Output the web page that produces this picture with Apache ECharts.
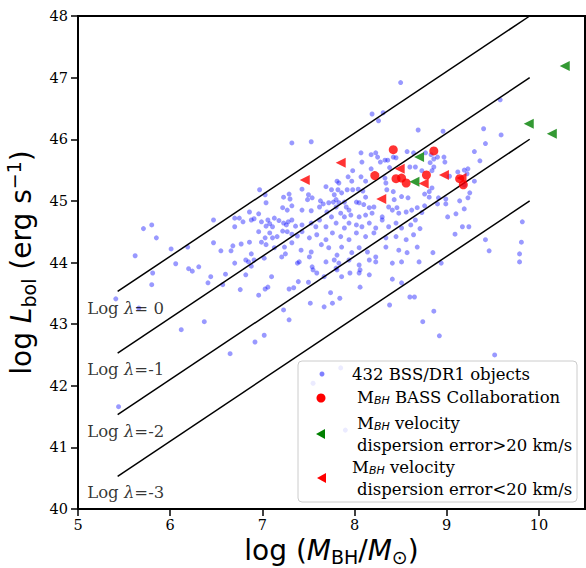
<!DOCTYPE html>
<html><head><meta charset="utf-8">
<script src="https://cdn.jsdelivr.net/npm/echarts@6/dist/echarts.min.js"></script>
<style>html,body{margin:0;padding:0;background:#fff}#c{width:586px;height:568px}</style>
</head><body><div id="c"></div>
<script>
// 432 BSS/DR1 objects (approximate readings from the picture)
const bssLogM = [5.41,5.44,5.66,5.62,5.71,5.80,5.85,6.01,6.19,6.06,6.20,6.24,6.31,5.81,5.80,6.12,6.37,6.41,6.44,6.47,6.47,6.55,6.57,6.60,6.65,6.66,6.68,6.70,6.70,6.70,6.75,6.76,6.77,6.79,6.82,6.85,6.86,6.86,6.88,6.88,6.88,6.91,6.91,6.92,6.96,6.96,6.96,6.97,
7.03,7.04,6.99,7.04,7.08,7.11,7.04,7.13,7.10,7.03,7.06,7.02,7.06,7.08,7.13,7.18,7.23,7.26,7.28,7.32,7.36,7.22,7.27,7.23,7.29,7.30,7.32,7.32,7.16,7.22,7.27,7.32,7.38,7.24,7.25,7.21,7.29,7.34,7.39,7.23,7.29,7.02,6.99,7.03,7.11,6.82,7.38,
8.50,8.19,8.31,8.26,7.53,8.69,8.07,8.18,8.23,8.25,8.57,8.64,8.42,8.08,8.28,8.33,8.36,8.45,8.60,8.66,7.98,8.18,8.38,7.93,8.07,8.12,8.33,7.81,7.83,7.97,
7.43,7.69,7.75,7.78,7.82,7.86,7.92,7.98,8.04,8.09,8.12,8.34,8.35,8.42,8.43,8.51,8.58,7.50,7.49,7.54,7.63,7.66,7.72,7.77,7.80,7.83,7.89,7.80,7.91,7.94,8.02,8.05,8.10,8.16,8.21,
7.43,7.53,7.62,7.70,7.75,7.85,7.89,7.96,8.05,8.12,8.19,8.30,8.37,8.41,8.46,8.48,8.56,8.62,8.68,
7.43,7.53,7.58,7.62,7.69,7.80,7.89,7.94,8.02,8.08,8.16,8.23,8.30,8.37,8.45,8.51,8.61,8.66,
7.43,7.51,7.59,7.69,7.76,7.85,7.94,8.02,8.12,8.21,8.34,8.45,8.56,8.64,
7.32,7.42,7.53,7.64,7.72,7.81,7.86,7.97,8.05,8.14,8.23,8.34,8.48,8.57,8.68,
7.40,7.51,7.54,7.69,7.78,7.83,7.80,7.94,8.05,8.16,8.23,8.41,8.51,7.59,7.86,8.05,8.16,7.67,
7.55,7.81,7.95,8.06,8.06,7.74,7.84,7.76,7.67,7.52,7.50,8.41,8.51,8.60,8.65,8.38,8.86,8.74,8.92,9.52,7.85,7.55,7.90,
9.58,8.96,9.40,9.59,9.42,9.30,9.36,8.97,8.86,8.77,8.83,8.90,8.98,8.82,8.86,8.84,8.73,9.12,9.23,9.03,9.30,9.25,9.23,9.14,9.19,9.10,9.01,9.17,9.24,9.09,
8.84,8.81,8.76,8.81,8.91,8.99,8.99,8.90,8.76,8.73,8.71,9.82,9.42,9.46,9.81,9.79,9.79,8.85,8.94,8.70,9.19,9.22,9.19];
const bssLogL = [43.41,41.66,43.26,44.11,44.55,44.61,44.40,44.22,44.25,43.98,43.90,43.86,43.93,43.83,43.64,42.91,43.04,43.67,43.77,44.69,44.32,44.19,43.64,43.81,42.52,44.19,44.27,44.72,44.58,43.99,44.72,43.56,44.30,44.66,43.80,44.01,44.82,44.33,44.69,44.14,43.94,44.71,44.04,42.71,44.79,44.50,43.47,45.18,
45.10,44.97,44.66,44.59,44.48,44.58,44.29,44.24,43.77,43.57,43.60,44.07,44.69,44.63,44.72,44.68,44.64,44.61,44.66,44.69,44.59,44.89,44.85,45.06,45.11,45.03,44.92,45.94,44.42,44.51,44.50,44.46,44.43,44.25,44.14,44.09,43.57,43.59,43.69,43.23,43.07,42.82,44.33,44.40,44.40,44.04,43.99,
46.92,46.41,46.43,46.30,45.96,46.15,45.78,45.75,45.78,45.71,45.80,45.78,45.71,45.63,45.63,45.66,45.66,45.70,45.55,45.55,45.49,45.52,45.54,45.39,45.39,45.32,45.37,45.32,45.29,45.32,
45.19,45.23,45.18,45.10,45.18,45.13,45.18,45.18,45.19,45.16,45.06,45.29,45.18,45.15,45.02,45.07,45.05,45.10,45.02,45.05,45.00,44.95,44.97,44.98,45.02,44.97,44.98,44.90,44.90,44.85,44.98,44.97,44.94,44.89,44.90,
44.85,44.84,44.90,44.82,44.74,44.80,44.74,44.77,44.74,44.77,44.80,44.74,44.90,44.85,44.89,44.80,44.82,44.85,44.89,
44.61,44.64,44.58,44.69,44.58,44.64,44.56,44.64,44.61,44.58,44.64,44.56,44.69,44.58,44.64,44.56,44.61,44.69,
44.50,44.40,44.45,44.37,44.48,44.42,44.37,44.48,44.42,44.48,44.40,44.42,44.37,44.45,
44.32,44.20,44.17,44.29,44.24,44.12,44.25,44.16,44.24,44.17,44.09,44.25,44.20,44.16,44.25,
44.01,44.09,43.93,44.01,44.04,43.99,43.91,44.04,43.96,44.04,44.01,43.99,44.01,43.83,43.77,43.83,43.80,43.77,
43.88,43.88,43.83,43.88,43.60,43.51,43.42,43.34,43.28,43.34,43.68,43.73,43.67,43.44,43.44,43.31,43.21,43.04,42.81,42.50,42.29,42.04,41.28,
46.64,46.13,46.17,46.07,45.93,45.80,45.65,45.71,45.68,45.78,45.75,45.71,45.63,45.62,45.55,45.49,45.49,45.47,45.52,45.40,45.32,45.13,45.05,45.00,44.87,44.79,44.74,44.58,44.58,44.46,
45.21,45.15,45.11,45.06,45.05,45.03,44.95,44.95,44.92,44.81,44.55,44.66,44.37,44.19,44.33,44.14,44.01,44.16,43.99,44.01,45.50,45.44,45.26];

// M_BH from BASS collaboration
const bassLogM = [8.42,8.86,8.22,8.78,8.45,8.51,8.56,9.14,9.18];
const bassLogL = [45.83,45.81,45.41,45.42,45.36,45.37,45.29,45.36,45.26];
// velocity dispersion error > 20 km/s
const hiErrLogM = [10.28,9.89,10.14,8.70,8.65];
const hiErrLogL = [47.19,46.25,46.09,45.71,45.31];
// velocity dispersion error < 20 km/s
const loErrLogM = [7.46,7.85,8.49,8.29,8.75,8.97,9.16];
const loErrLogL = [45.34,45.62,45.52,45.03,45.28,45.42,45.37];

// Eddington-ratio lines
const lambdaValues = ['0','-1','-2','-3'];
const lambdaLineLogM = [5.43, 9.90];
const lambdaLineLogL = [[43.53,48.00],[42.53,47.00],[41.53,46.00],[40.53,45.00]];
const lambdaLabelLogM = 5.10;
const lambdaLabelLogL = [43.26,42.26,41.25,40.26];

const xTickMin = 5, xTickMax = 10.5, xTickStep = 1;
const yTickMin = 40, yTickMax = 48, yTickStep = 1;

const zip = (a, b) => a.map((v, i) => [v, b[i]]);
const SERIF = 'DejaVu Serif';
const SANS = 'DejaVu Sans';

const series = [];
series.push({
  name: '432 BSS/DR1 objects', type: 'scatter', data: zip(bssLogM, bssLogL),
  symbol: 'circle', symbolSize: 5, itemStyle: { color: 'rgba(0,0,255,0.5)' }, z: 2, silent: true
});
lambdaLineLogL.forEach((ys, i) => {
  series.push({
    name: 'lambda' + lambdaValues[i], type: 'line', data: zip(lambdaLineLogM, ys),
    showSymbol: false, symbol: 'none', lineStyle: { color: '#000', width: 1.5 }, z: 3, silent: true
  });
});
series.push({
  name: 'labels', type: 'scatter', symbolSize: 0, silent: true, z: 4,
  data: lambdaLabelLogL.map((y, i) => ({ value: [lambdaLabelLogM, y], lab: lambdaValues[i] })),
  label: {
    show: true, position: [0, 0], align: 'left', verticalAlign: 'middle',
    formatter: p => '{a|Log }{i|λ}{a|=' + (p.data.lab === '0' ? ' 0' : p.data.lab) + '}',
    rich: {
      a: { fontFamily: SERIF, fontSize: 16.5, color: '#000' },
      i: { fontFamily: SERIF, fontSize: 16.5, fontStyle: 'italic', color: '#000' }
    }
  }
});
series.push({
  name: 'BASS', type: 'scatter', data: zip(bassLogM, bassLogL), symbol: 'circle', symbolSize: 9,
  itemStyle: { color: '#ff0000' }, z: 5, silent: true
});
series.push({
  name: 'hiErr', type: 'scatter', data: zip(hiErrLogM, hiErrLogL), symbol: 'triangle', symbolSize: [10, 10],
  symbolRotate: 90, itemStyle: { color: '#008000' }, z: 6, silent: true
});
series.push({
  name: 'loErr', type: 'scatter', data: zip(loErrLogM, loErrLogL), symbol: 'triangle', symbolSize: [10, 10],
  symbolRotate: 90, itemStyle: { color: '#ff0000' }, z: 6, silent: true
});

const tickStyle = { show: true, inside: false, length: 7, lineStyle: { color: '#000', width: 1.5 } };
const labelStyle = { fontFamily: SERIF, fontSize: 14.5, color: '#000' };

const legendItems = [];
const LX = 298, LY = 361;
legendItems.push({ type: 'rect', shape: { x: LX, y: LY, width: 279, height: 141, r: 4 },
  style: { fill: 'rgba(255,255,255,0.8)', stroke: '#cccccc', lineWidth: 1 }, z: 100 });
legendItems.push({ type: 'circle', shape: { cx: 322, cy: 374, r: 2.5 }, style: { fill: 'rgba(0,0,255,0.5)' }, z: 101 });
legendItems.push({ type: 'circle', shape: { cx: 321, cy: 398, r: 4.5 }, style: { fill: '#ff0000' }, z: 101 });
legendItems.push({ type: 'polygon', shape: { points: [[316, 434], [325, 429], [325, 439]] }, style: { fill: '#008000' }, z: 101 });
legendItems.push({ type: 'polygon', shape: { points: [[317, 478], [326, 473], [326, 483]] }, style: { fill: '#ff0000' }, z: 101 });
const richLeg = {
  t: { fontFamily: SERIF, fontSize: 16.5, fill: '#000' },
  s: { fontFamily: SANS, fontSize: 11, fontStyle: 'italic', fill: '#000', verticalAlign: 'bottom', lineHeight: 18 }
};
function legText(x, y, txt) {
  legendItems.push({ type: 'text', x: x, y: y, z: 101,
    style: { text: txt, fontFamily: SERIF, fontSize: 16.5, fill: '#000', verticalAlign: 'middle', align: 'left', rich: richLeg } });
}
legText(352, 374, '{t|432 BSS/DR1 objects}');
legText(357, 397, '{t|M}{s|BH}{t| BASS Collaboration}');
legText(357, 423, '{t|M}{s|BH}{t| velocity}');
legText(357, 445, '{t|dispersion error>20 km/s}');
legText(352, 467, '{t|M}{s|BH}{t| velocity}');
legText(357, 489, '{t|dispersion error<20 km/s}');

const chart = echarts.init(document.getElementById('c'), null, { renderer: 'svg' });
chart.setOption({
  animation: false,
  backgroundColor: '#fff',
  grid: { left: 78, top: 16, right: 1, bottom: 59, containLabel: false, outerBoundsMode: 'none',
    show: true, borderColor: '#000', borderWidth: 2, backgroundColor: 'transparent' },
  xAxis: {
    type: 'value', min: xTickMin, max: xTickMax, interval: xTickStep,
    axisLine: { show: true, onZero: false, lineStyle: { color: '#000', width: 2 } },
    axisTick: tickStyle, splitLine: { show: false },
    axisLabel: Object.assign({ margin: 8, showMaxLabel: false }, labelStyle),
    name: '{t|log (}{i|M}{s|BH}{t|/}{i|M}{s|⊙}{t|)}', nameLocation: 'middle', nameGap: 22,
    nameTextStyle: {
      fontFamily: SANS, fontSize: 28, color: '#000', verticalAlign: 'top',
      rich: {
        t: { fontFamily: SANS, fontSize: 28, color: '#000', lineHeight: 32 },
        i: { fontFamily: SANS, fontSize: 28, fontStyle: 'italic', color: '#000', lineHeight: 32 },
        s: { fontFamily: SANS, fontSize: 19, color: '#000', verticalAlign: 'bottom', lineHeight: 32 }
      }
    }
  },
  yAxis: {
    type: 'value', min: yTickMin, max: yTickMax, interval: yTickStep,
    axisLine: { show: true, onZero: false, lineStyle: { color: '#000', width: 2 } },
    axisTick: tickStyle, splitLine: { show: false },
    axisLabel: Object.assign({ margin: 10 }, labelStyle),
    name: '{t|log }{i|L}{s|bol}{t| (erg s}{p|−1}{t|)}', nameLocation: 'middle', nameGap: 38, nameRotate: 90,
    nameTextStyle: {
      fontFamily: SANS, fontSize: 28, color: '#000',
      rich: {
        t: { fontFamily: SANS, fontSize: 28, color: '#000', lineHeight: 34 },
        i: { fontFamily: SANS, fontSize: 28, fontStyle: 'italic', color: '#000', lineHeight: 34 },
        s: { fontFamily: SANS, fontSize: 19, color: '#000', verticalAlign: 'bottom', lineHeight: 34 },
        p: { fontFamily: SANS, fontSize: 19, color: '#000', verticalAlign: 'top', lineHeight: 34 }
      }
    }
  },
  series: series,
  graphic: legendItems
});
</script></body></html>
